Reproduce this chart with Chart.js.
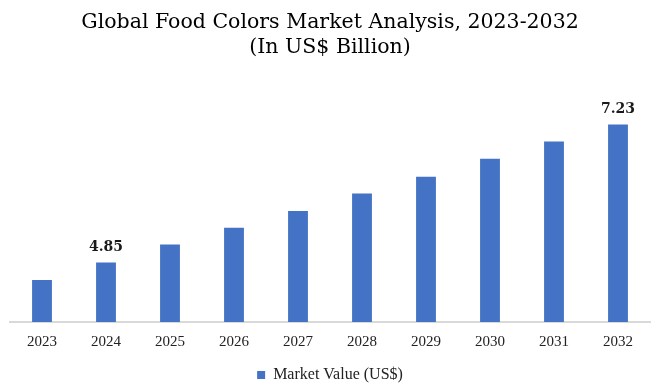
<!DOCTYPE html>
<html>
<head>
<meta charset="utf-8">
<script src="https://cdn.jsdelivr.net/npm/chart.js@4"></script>
<style>
  body { margin: 0; background: #fff; }
</style>
</head>
<body>
<canvas id="grafico" width="666" height="387"></canvas>
<script>
// Dados do gráfico
const anos = ['2023', '2024', '2025', '2026', '2027', '2028', '2029', '2030', '2031', '2032'];
const valores = [4.55, 4.85, 5.16, 5.45, 5.74, 6.04, 6.33, 6.64, 6.94, 7.23];
const rotulosVisiveis = ['2024', '2032'];

// Escreve o valor acima das barras escolhidas
const rotulosPlugin = {
    id: 'rotulos',
    afterDatasetsDraw(chart) {
        const ctx = chart.ctx;
        const meta = chart.getDatasetMeta(0);
        ctx.save();
        ctx.font = 'bold 14px "DejaVu Serif", serif';
        ctx.fillStyle = '#1a1a1a';
        ctx.textAlign = 'center';
        ctx.textBaseline = 'bottom';
        meta.data.forEach((bar, i) => {
            if (rotulosVisiveis.includes(anos[i])) {
                ctx.fillText(valores[i].toFixed(2), bar.x, bar.y - 8);
            }
        });
        ctx.restore();
    }
};

window.addEventListener("DOMContentLoaded", () => {
    const ctx = document.getElementById('grafico').getContext('2d');
    new Chart(ctx, {
        type: 'bar',
        data: {
            labels: anos,
            datasets: [{
                label: 'Market Value (US$)',
                data: valores,
                backgroundColor: '#4472C4',
                barPercentage: 0.62,
                categoryPercentage: 0.5
            }]
        },
        options: {
            responsive: false,
            animation: false,
            layout: { padding: { left: 10, right: 16, top: 6, bottom: -6 } },
            plugins: {
                title: {
                    display: true,
                    text: ['Global Food Colors Market Analysis, 2023-2032', '(In US$ Billion)'],
                    color: '#000',
                    font: { family: '"DejaVu Serif", serif', size: 20.5, weight: 'normal', lineHeight: 1.22 },
                    padding: { top: 4, bottom: 37 }
                },
                legend: {
                    position: 'bottom',
                    labels: {
                        color: '#222',
                        boxWidth: 8,
                        boxHeight: 8,
                        font: { family: '"Liberation Serif", serif', size: 16 },
                        padding: 13
                    }
                },
                tooltip: { enabled: false }
            },
            scales: {
                x: {
                    grid: { display: false },
                    border: { color: '#d9d9d9', width: 2 },
                    ticks: {
                        color: '#222',
                        font: { family: '"Liberation Serif", serif', size: 15, lineHeight: 1.2 },
                        padding: 3,
                        maxRotation: 0
                    }
                },
                y: {
                    display: false,
                    min: 3.825,
                    max: 7.705
                }
            }
        },
        plugins: [rotulosPlugin]
    });
});
</script>
</body>
</html>
